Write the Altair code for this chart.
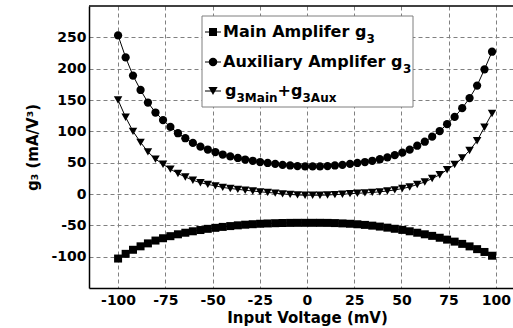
import altair as alt
import pandas as pd

# Input voltage sweep (mV)
voltage_mv = [-100.0, -96.0, -92.1, -88.1, -84.2, -80.2, -76.2, -72.3, -68.3, -64.4,
              -60.4, -56.4, -52.5, -48.5, -44.6, -40.6, -36.6, -32.7, -28.7, -24.8,
              -20.8, -16.8, -12.9, -8.9, -5.0, -1.0, 3.0, 6.9, 10.9, 14.8,
              18.8, 22.8, 26.7, 30.7, 34.6, 38.6, 42.6, 46.5, 50.5, 54.4,
              58.4, 62.4, 66.3, 70.3, 74.2, 78.2, 82.2, 86.1, 90.1, 94.0, 98.0]

# Third-order transconductance g3 (mA/V^3)
g3_main = [-103, -95.5, -89, -83.5, -78.8, -74.3, -70.6, -67.3, -64.3, -61.8,
           -59.5, -57.5, -55.6, -54, -52.5, -51.2, -50, -49, -48.2, -47.5,
           -47, -46.6, -46.3, -46.1, -46, -46, -46, -46, -46.1, -46.4,
           -46.9, -47.5, -48.3, -49.3, -50.5, -52, -53.7, -55.5, -57.3, -59.5,
           -61.8, -64.3, -66.8, -69.8, -72.8, -76, -79.6, -83.6, -88, -92.5, -98.5]

g3_aux = [253, 218, 189, 166, 146, 130, 118, 107, 97, 89,
          81.5, 75.5, 71, 67, 63, 60, 57.5, 55, 53, 51,
          49.5, 48, 46.5, 45.5, 44.5, 44, 44, 44, 44.5, 45.5,
          46.5, 48, 49.5, 51, 53, 55.5, 58.5, 62, 66, 70.7,
          77, 83.4, 91.5, 100.5, 111.5, 123, 137, 153, 173, 199, 227]

g3_total = [150, 122.5, 100, 82.5, 67.2, 55.7, 47.4, 39.7, 32.7, 27.2,
            22, 18, 15.4, 13, 10.5, 8.8, 7.5, 6, 4.8, 3.5,
            2.5, 1.4, 0.2, -0.6, -1.5, -2, -2, -2, -1.6, -0.9,
            -0.4, 0.5, 1.2, 1.7, 2.5, 3.5, 4.8, 6.5, 8.7, 11.2,
            15.2, 19.1, 24.7, 30.7, 38.7, 47, 57.4, 69.4, 85, 106.5, 128.5]

series_names = ["main", "aux", "total"]
series_shapes = ["square", "circle", "triangle-down"]
series_sizes = [64, 72, 85]

x_ticks = [-100, -75, -50, -25, 0, 25, 50, 75, 100]
y_ticks = [-100, -50, 0, 50, 100, 150, 200, 250]

rows = []
for name, vals in zip(series_names, [g3_main, g3_aux, g3_total]):
    for v, g in zip(voltage_mv, vals):
        rows.append({"series": name, "v": v, "g3": g})
df = pd.DataFrame(rows)

W, H = 424, 282
FONT = "DejaVu Sans"

x_enc = alt.X(
    "v:Q",
    scale=alt.Scale(domain=[-115.4, 109.1], nice=False, zero=False),
    axis=alt.Axis(values=x_ticks, title="Input Voltage (mV)", labelExpr="'' + datum.value",
                  labelPadding=5, titleX=218, titleY=34, titleBaseline="alphabetic"),
)
y_enc = alt.Y(
    "g3:Q",
    scale=alt.Scale(domain=[-150, 300], nice=False, zero=False),
    axis=alt.Axis(values=y_ticks, title="g₃ (mA/V³)", labelExpr="'' + datum.value",
                  labelPadding=3, titleAngle=270, titleX=-52, titleY=141,
                  titleBaseline="alphabetic", titleAlign="center"),
)

lines = alt.Chart(df).mark_line(color="black", strokeWidth=1).encode(
    x=x_enc, y=y_enc, detail="series:N"
)
points = alt.Chart(df).mark_point(filled=True, color="black", opacity=1).encode(
    x=x_enc,
    y=y_enc,
    shape=alt.Shape("series:N", scale=alt.Scale(domain=series_names, range=series_shapes), legend=None),
    size=alt.Size("series:N", scale=alt.Scale(domain=series_names, range=series_sizes), legend=None),
)

one = alt.Data(values=[{"k": 0}])

top_border = alt.Chart(one).mark_rule(color="black", strokeWidth=1.5).encode(
    x=alt.value(0), x2=alt.value(W), y=alt.value(0)
)

# Legend box drawn by hand so the subscripts can be typeset
legend_layers = [
    alt.Chart(one).mark_rect(fill="white", stroke="#7f7f7f", strokeWidth=1).encode(
        x=alt.value(113), x2=alt.value(324), y=alt.value(10), y2=alt.value(101)
    )
]
row_mid = [26, 56, 85]
for shape, size, ym in zip(series_shapes, series_sizes, row_mid):
    legend_layers.append(
        alt.Chart(one).mark_rule(color="black", strokeWidth=1).encode(
            x=alt.value(116), x2=alt.value(132), y=alt.value(ym)
        )
    )
    legend_layers.append(
        alt.Chart(one).mark_point(shape=shape, size=size, filled=True, color="black", opacity=1).encode(
            x=alt.value(124), y=alt.value(ym)
        )
    )

# (text, x, baseline y, font size)
legend_text = [
    ("Main Amplifer g", 134, 31, 16),
    ("3", 277.5, 36.5, 12),
    ("Auxiliary Amplifer g", 134, 61, 16),
    ("3", 314, 66.5, 12),
    ("g", 136, 90, 16),
    ("3Main", 147.5, 95.5, 12),
    ("+g", 188.5, 90, 16),
    ("3Aux", 213.5, 95.5, 12),
]
for txt, tx, ty, fs in legend_text:
    legend_layers.append(
        alt.Chart(one).mark_text(align="left", baseline="alphabetic", font=FONT,
                                 fontWeight="bold", fontSize=fs, color="black").encode(
            x=alt.value(tx), y=alt.value(ty), text=alt.value(txt)
        )
    )

chart = alt.layer(lines, points, top_border, *legend_layers).properties(
    width=W,
    height=H,
    padding={"left": 89, "top": 6, "right": 0, "bottom": 40},
    autosize=alt.AutoSizeParams(type="none"),
    background="white",
).configure_view(stroke=None).configure_axis(
    labelFont=FONT,
    labelFontWeight="bold",
    labelFontSize=14,
    labelColor="black",
    titleFont=FONT,
    titleFontWeight="bold",
    titleFontSize=15,
    titleColor="black",
    domainColor="black",
    domainWidth=1.5,
    ticks=False,
    gridColor="#808080",
    gridDash=[4, 3],
    gridWidth=1,
)

chart.save("out.html", embed_options={"renderer": "svg", "actions": False})
